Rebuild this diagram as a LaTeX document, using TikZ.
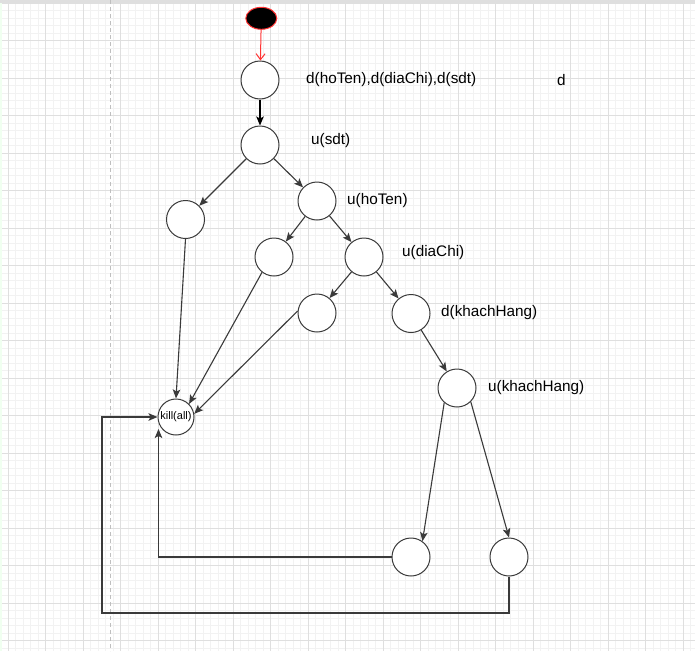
\documentclass[tikz,border=0pt]{standalone}
\usepackage{fontspec}
\setmainfont{Liberation Sans}
\usetikzlibrary{arrows.meta,calc,shapes.geometric}
\definecolor{minorg}{HTML}{F2F2F2}
\definecolor{majorg}{HTML}{DFDFDF}
\definecolor{edgec}{HTML}{3A3A3A}
\definecolor{redc}{HTML}{FF3333}
\begin{document}
\begin{tikzpicture}[x=1pt,y=-1pt,
  st/.style={circle,draw=edgec,line width=1pt,fill=white,minimum size=38pt,inner sep=0pt},
  lbl/.style={anchor=west,inner sep=0pt,font=\fontsize{15.3}{17}\selectfont,text=black},
  edge/.style={draw=edgec,line width=1.1pt,-{Stealth[length=9pt,width=7.5pt,inset=2pt]}},
  startnode/.style={ellipse,draw=redc,line width=1pt,fill=black,minimum width=31pt,minimum height=22pt,inner sep=0pt}]
\useasboundingbox (0,0) rectangle (695,651);
\fill[white] (0,0) rectangle (695,651);
% grid
\foreach \i in {0,...,92} {\draw[minorg,line width=0.8pt] ({0.7+7.5*\i},0) -- ({0.7+7.5*\i},651);}
\foreach \i in {0,...,86} {\draw[minorg,line width=0.8pt] (0,{3.3+7.5*\i}) -- (695,{3.3+7.5*\i});}
\foreach \i in {0,...,18} {\draw[majorg,line width=1pt] ({8.2+37.5*\i},0) -- ({8.2+37.5*\i},651);}
\foreach \i in {0,...,17} {\draw[majorg,line width=1pt] (0,{3.3+37.5*\i}) -- (695,{3.3+37.5*\i});}
\fill[majorg] (0,0) rectangle (695,2.7);
\fill[green!6!white] (0,2.7) rectangle (1.5,651);
\draw[black!25,line width=1pt,dash pattern=on 4pt off 3pt] (110.7,0) -- (110.7,651);
% nodes
\node[startnode] (s) at (261.3,18.3) {};
\node[st] (A) at (260,80) {};
\node[st] (B) at (260,145) {};
\node[st] (C) at (185.5,219.5) {};
\node[st] (D) at (317,201) {};
\node[st] (E) at (274,257) {};
\node[st] (F) at (364,257) {};
\node[st] (G) at (317,313) {};
\node[st] (H) at (411,313.5) {};
\node[st] (I) at (457,388) {};
\node[st] (J) at (411,557) {};
\node[st] (K) at (509,557) {};
\node[circle,draw=edgec,line width=1pt,fill=white,minimum size=36pt,inner sep=0pt,font=\fontsize{11}{12}\selectfont] (kill) at (176,417) {kill(all)};
% labels
\node[lbl] (l1) at (306,80) {d(hoTen),d(diaChi),d(sdt)};
\node[lbl] (l2) at (557,80) {d};
\node[lbl] (l3) at (311,141) {u(sdt)};
\node[lbl] (l4) at (347,201) {u(hoTen)};
\node[lbl] (l5) at (402,253) {u(diaChi)};
\node[lbl] (l6) at (441,313) {d(khachHang)};
\node[lbl] (l7) at (488,388) {u(khachHang)};
% connectors
\draw[redc,line width=1pt,-{Straight Barb[length=6pt,width=9pt]}] (s) -- (A);
\draw[edge,draw=black] (A) -- (B);
\draw[edge] (B) -- (C);
\draw[edge] (B) -- (D);
\draw[edge] (D) -- (E);
\draw[edge] (D) -- (F);
\draw[edge] (F) -- (G);
\draw[edge] (F) -- (H);
\draw[edge] (H) -- (I);
\draw[edge] (I.229) -- (J.54);
\draw[edge] (I.315) -- (K.north);
\draw[edge] (C.south) -- (kill.north);
\draw[edge] (E.232) -- (kill.45);
\draw[edge] (G.174) -- (kill.10);
\coordinate (kb) at ([xshift=-17.5pt,yshift=-12pt]kill.center);
\draw[edge] (J.west) -| (kb);
\coordinate (c1) at (102,613);
\draw[edge] (K.south) |- (c1) |- (kill.west);
\end{tikzpicture}
\end{document}
